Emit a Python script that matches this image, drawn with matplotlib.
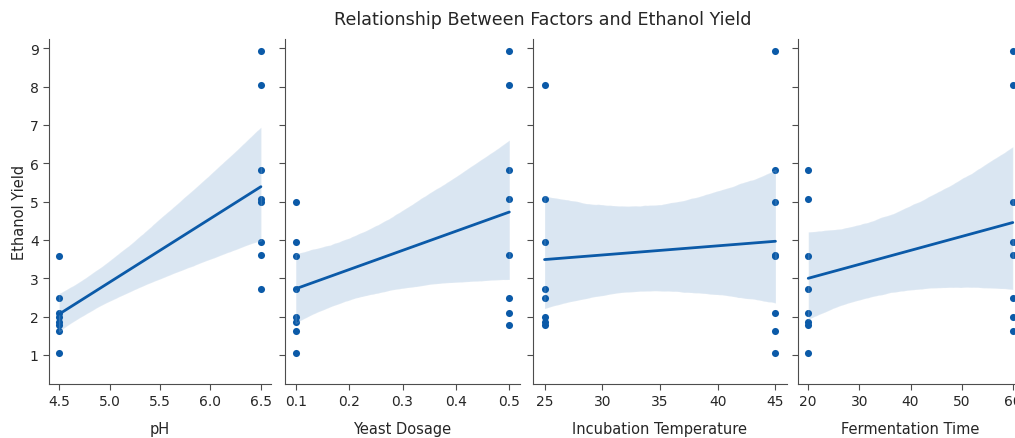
import numpy as np
import pandas as pd
import matplotlib
matplotlib.use("Agg")
import matplotlib.pyplot as plt
import seaborn as sns

# 16 runs of a two-level design
ethanol_yield = [8.92, 8.04, 5.83, 5.06, 4.99, 3.95, 3.58, 3.60,
                 2.71, 2.49, 2.00, 2.10, 1.87, 1.77, 1.63, 1.06]
ph = [6.5, 6.5, 6.5, 6.5, 6.5, 6.5, 4.5, 6.5,
      6.5, 4.5, 4.5, 4.5, 4.5, 4.5, 4.5, 4.5]
yeast_dosage = [0.5, 0.5, 0.5, 0.5, 0.1, 0.1, 0.1, 0.5,
                0.1, 0.5, 0.1, 0.5, 0.1, 0.5, 0.1, 0.1]
incubation_temp = [45, 25, 45, 25, 45, 25, 45, 45,
                   25, 25, 25, 45, 25, 25, 45, 45]
fermentation_time = [60, 60, 20, 20, 60, 60, 20, 60,
                     20, 60, 60, 20, 20, 20, 60, 20]

factors = ["pH", "Yeast Dosage", "Incubation Temperature", "Fermentation Time"]

df = pd.DataFrame({
    "pH": ph,
    "Yeast Dosage": yeast_dosage,
    "Incubation Temperature": incubation_temp,
    "Fermentation Time": fermentation_time,
    "Ethanol Yield": ethanol_yield,
})

sns.set_style("ticks")
plt.rcParams["font.family"] = ["DejaVu Sans"]

W, H = 1015, 439
fig = plt.figure(figsize=(W / 100, H / 100), dpi=100)

# axes boxes in pixels (left, width) - panels in the source are not equal
boxes = [(49, 222), (285, 235), (533, 254), (798, 225)]
top, bottom = 40, 385
color = "#0b5aa8"

for i, ((left, width), col) in enumerate(zip(boxes, factors)):
    ax = fig.add_axes([left / W, 1 - bottom / H, width / W, (bottom - top) / H])
    sns.regplot(data=df, x=col, y="Ethanol Yield", ax=ax, color=color,
                ci=95, n_boot=6000, seed=3,
                scatter_kws=dict(s=26, linewidths=0, alpha=1),
                line_kws=dict(lw=2))
    ax.set_ylim(0.24, 9.24)
    ax.set_yticks(range(1, 10))
    ax.tick_params(labelsize=10, length=4, color="0.3")
    ax.set_xlabel(col, fontsize=10.5, labelpad=9)
    if i == 0:
        ax.set_ylabel("Ethanol Yield", fontsize=10.5, labelpad=2)
    else:
        ax.set_ylabel("")
        ax.set_yticklabels([])
    for s in ["left", "bottom"]:
        ax.spines[s].set_color("0.3")
    sns.despine(ax=ax)

fig.text(0.535, 0.955, "Relationship Between Factors and Ethanol Yield",
         ha="center", va="center", fontsize=12.6)

fig.savefig("out.png", dpi=100)
